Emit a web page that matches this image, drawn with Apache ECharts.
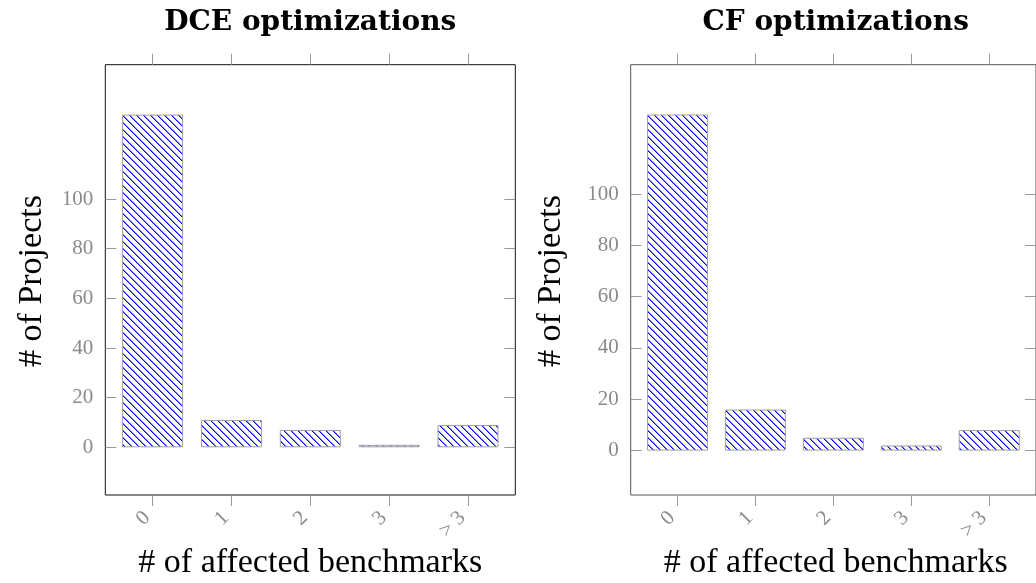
<!DOCTYPE html>
<html><head><meta charset="utf-8">
<script src="https://cdn.jsdelivr.net/npm/echarts@6/dist/echarts.min.js"></script>
<style>html,body{margin:0;padding:0;background:#fff}#c{width:1036px;height:583px}</style>
</head><body><div id="c"></div>
<script>
// ---- data ----
const categories = ['0', '1', '2', '3', '> 3'];
const dceValues = [134, 11, 7, 1, 9];
const cfValues = [131, 16, 5, 2, 8];
const yTickValues = [0, 20, 40, 60, 80, 100];
const panelTitles = ['DCE optimizations', 'CF optimizations'];
const xAxisName = '# of affected benchmarks';
const yAxisName = '# of Projects';

// ---- styling / layout ----
const FONT = '"Liberation Serif", "DejaVu Serif", serif';
const TITLE_FONT = '"DejaVu Serif", "Liberation Serif", serif';
const GRAY = '#8a8a8a';
const TICK = '#9a9a9a';
const catIdx = categories.map((_, i) => i);

function hatch() {
  const s = 7;
  const c = document.createElement('canvas');
  c.width = s; c.height = s;
  const g = c.getContext('2d');
  g.fillStyle = '#0000ff';
  for (let i = 0; i < s; i++) g.fillRect(i, i, 1, 1);
  g.globalAlpha = 0.5;
  for (let i = 0; i < s; i++) g.fillRect((i + 1) % s, i, 1, 1);
  return c;
}
const pattern = { image: hatch(), repeat: 'repeat' };

const panels = [
  { left: 105.3, min: -19.2, max: 154.1, values: dceValues, border: '#111' },
  { left: 630.7, min: -17.3, max: 150.4, values: cfValues, border: '#555' }
];
const TOP = 64.7, H = 430.3, W = 410;

const grid = [], xAxis = [], yAxis = [], series = [], graphic = [];
panels.forEach((p, i) => {
  grid.push({ left: p.left, top: TOP, width: W, height: H, show: true,
    borderColor: p.border, borderWidth: 1, backgroundColor: 'transparent', containLabel: false });
  const xBase = { gridIndex: i, type: 'value', min: -0.6, max: 4.6,
    axisLine: { show: false, onZero: false }, splitLine: { show: false } };
  xAxis.push(Object.assign({}, xBase, { position: 'bottom',
    axisTick: { show: true, customValues: catIdx, length: 11, inside: false, lineStyle: { color: TICK } },
    axisLabel: { customValues: catIdx, formatter: v => categories[Math.round(v)], rotate: 45,
      margin: 14, padding: [0, 8, 0, 0], color: GRAY, fontSize: 21, fontFamily: FONT } }));
  xAxis.push(Object.assign({}, xBase, { position: 'top',
    axisTick: { show: true, customValues: catIdx, length: 11, inside: false, lineStyle: { color: TICK } },
    axisLabel: { show: false } }));
  const yBase = { gridIndex: i, type: 'value', min: p.min, max: p.max,
    axisLine: { show: false, onZero: false }, splitLine: { show: false } };
  yAxis.push(Object.assign({}, yBase, { position: 'left',
    axisTick: { show: true, customValues: yTickValues, length: 11, inside: true, lineStyle: { color: TICK } },
    axisLabel: { customValues: yTickValues, margin: 12, color: GRAY, fontSize: 21, fontFamily: FONT } }));
  yAxis.push(Object.assign({}, yBase, { position: 'right',
    axisTick: { show: true, customValues: yTickValues, length: 11, inside: true, lineStyle: { color: TICK } },
    axisLabel: { show: false } }));
  series.push({ type: 'bar', xAxisIndex: i * 2, yAxisIndex: i * 2, barWidth: 61,
    data: p.values.map((v, k) => [k, v]),
    itemStyle: { color: pattern, borderColor: '#a0a0a0', borderWidth: 1 } });
  const cx = p.left + W / 2;
  graphic.push({ type: 'text', x: cx, y: 23, style: { text: panelTitles[i], fontSize: 28,
    fontWeight: 'bold', fontFamily: TITLE_FONT, fill: '#000', align: 'center', verticalAlign: 'middle' } });
  graphic.push({ type: 'text', x: cx, y: 563, style: { text: xAxisName, fontSize: 34,
    fontFamily: FONT, fill: '#000', align: 'center', verticalAlign: 'middle' } });
  graphic.push({ type: 'text', x: i === 0 ? 32 : 551, y: 281, rotation: Math.PI / 2,
    style: { text: yAxisName, fontSize: 34, fontFamily: FONT, fill: '#000',
      align: 'center', verticalAlign: 'middle' } });
});

const chart = echarts.init(document.getElementById('c'), null, { renderer: 'canvas' });
chart.setOption({ animation: false, backgroundColor: '#fff', grid, xAxis, yAxis, series, graphic });
</script></body></html>
